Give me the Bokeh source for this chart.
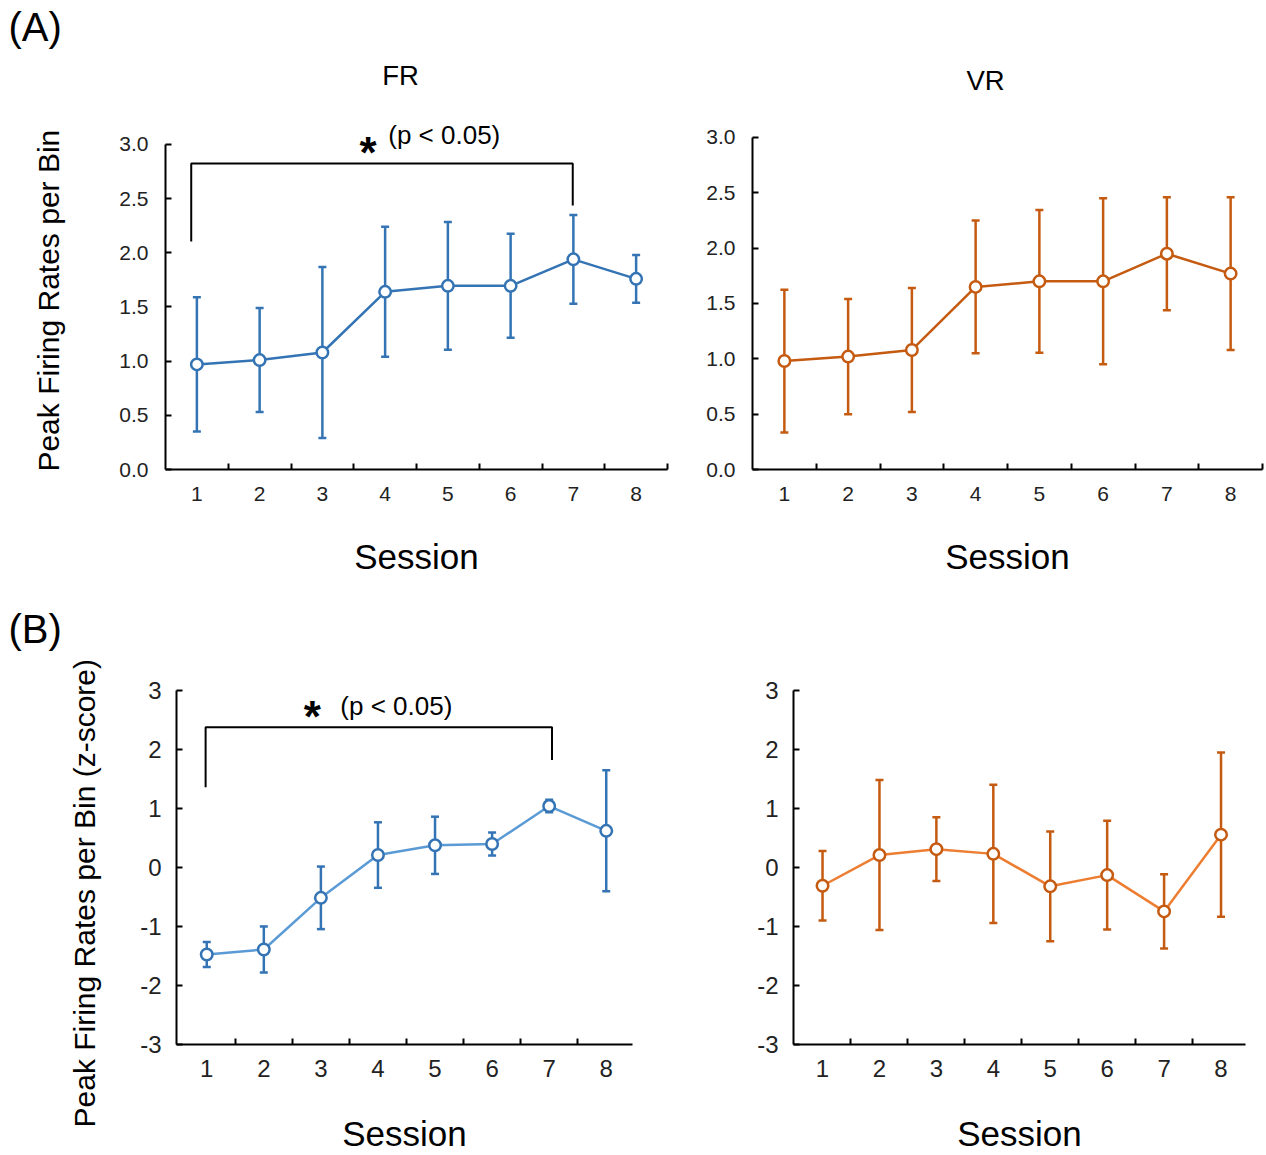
from bokeh.plotting import figure
from bokeh.models import (ColumnDataSource, Whisker, TeeHead, FixedTicker,
                          Range1d, Label, Title)
from bokeh.layouts import column, row
from bokeh.embed import file_html
from bokeh.resources import INLINE

# ---------------- data ----------------
sessions = [1, 2, 3, 4, 5, 6, 7, 8]
session_labels = ["1", "2", "3", "4", "5", "6", "7", "8"]

fr_rate_mean = [0.97, 1.01, 1.08, 1.64, 1.695, 1.695, 1.94, 1.76]
fr_rate_err = [0.62, 0.48, 0.79, 0.60, 0.59, 0.48, 0.41, 0.22]
vr_rate_mean = [0.98, 1.02, 1.08, 1.65, 1.70, 1.70, 1.95, 1.77]
vr_rate_err = [0.645, 0.52, 0.56, 0.60, 0.645, 0.75, 0.51, 0.69]

fr_z_mean = [-1.475, -1.39, -0.515, 0.21, 0.375, 0.397, 1.04, 0.62]
fr_z_err = [0.21, 0.39, 0.53, 0.555, 0.485, 0.195, 0.105, 1.025]
vr_z_mean = [-0.31, 0.21, 0.31, 0.23, -0.32, -0.13, -0.745, 0.556]
vr_z_err = [0.59, 1.27, 0.54, 1.17, 0.93, 0.92, 0.63, 1.39]

rate_ticks = [0.0, 0.5, 1.0, 1.5, 2.0, 2.5, 3.0]
rate_tick_labels = ["0.0", "0.5", "1.0", "1.5", "2.0", "2.5", "3.0"]
z_ticks = [-3, -2, -1, 0, 1, 2, 3]
z_tick_labels = ["-3", "-2", "-1", "0", "1", "2", "3"]

# significance brackets (session 1 vs session 7)
sig_a_x = [0.91, 0.91, 6.99, 6.99]
sig_a_y = [2.105, 2.825, 2.825, 2.437]
sig_b_x = [0.98, 0.98, 7.05, 7.05]
sig_b_y = [1.36, 2.375, 2.375, 1.82]
sig_text = "(p < 0.05)"

ylabel_rate = "Peak Firing Rates per Bin"
ylabel_z = "Peak Firing Rates per Bin (z-score)"

FONT = "Liberation Sans"
BLUE = "#3474b4"
BLUE_LIGHT = "#5b9bd5"
ORANGE = "#c55a11"
ORANGE_LIGHT = "#ed7d31"
NBSP = "\u00a0"


def make_panel(mean, err, yr, ybounds, ticks, tick_labels, xr, width, height,
               borders, line_color, bar_color, tick_font, label_standoff_x,
               tick_standoff_x, tick_standoff_y, ylabel=None,
               ylabel_standoff=0, ylabel_size="30px"):
    p = figure(width=width, height=height, output_backend="svg",
               toolbar_location=None, x_range=Range1d(*xr),
               y_range=Range1d(*yr), min_border_left=borders[0],
               min_border_right=borders[1], min_border_top=borders[2],
               min_border_bottom=borders[3])
    p.outline_line_color = None
    p.grid.visible = False
    p.background_fill_color = "white"
    p.border_fill_color = "white"

    lower = [m - e for m, e in zip(mean, err)]
    upper = [m + e for m, e in zip(mean, err)]
    src = ColumnDataSource(dict(x=sessions, y=mean, lower=lower, upper=upper))

    w = Whisker(base="x", lower="lower", upper="upper", source=src,
                dimension="height", line_color=bar_color, line_width=2.5,
                upper_head=TeeHead(size=8, line_color=bar_color, line_width=2.5),
                lower_head=TeeHead(size=8, line_color=bar_color, line_width=2.5))
    p.add_layout(w)
    p.line("x", "y", source=src, line_color=line_color, line_width=2.5)
    p.scatter("x", "y", source=src, marker="circle", size=11.5,
              fill_color="white", line_color=bar_color, line_width=2.5)

    # axes
    p.xaxis.ticker = FixedTicker(ticks=sessions,
                                 minor_ticks=[s + 0.5 for s in sessions])
    p.xaxis.major_label_overrides = {s: l for s, l in zip(sessions, session_labels)}
    p.xaxis.major_tick_in = 0
    p.xaxis.major_tick_out = 0
    p.xaxis.minor_tick_in = 6
    p.xaxis.minor_tick_out = 0
    p.xaxis.minor_tick_line_color = "black"
    p.xaxis.minor_tick_line_width = 2
    p.xaxis.axis_label = "Session"
    p.xaxis.axis_label_text_font = FONT
    p.xaxis.axis_label_text_font_style = "normal"
    p.xaxis.axis_label_text_font_size = "35px"
    p.xaxis.axis_label_text_color = "black"
    p.xaxis.axis_label_standoff = label_standoff_x
    p.xaxis.major_label_standoff = tick_standoff_x

    p.yaxis.ticker = FixedTicker(ticks=ticks, minor_ticks=[])
    p.yaxis.bounds = ybounds
    p.yaxis.major_label_overrides = {t: l for t, l in zip(ticks, tick_labels)}
    p.yaxis.major_tick_in = 6
    p.yaxis.major_tick_out = 0
    p.yaxis.major_tick_line_width = 2
    p.yaxis.major_label_standoff = tick_standoff_y
    if ylabel:
        p.yaxis.axis_label = ylabel
        p.yaxis.axis_label_text_font = FONT
        p.yaxis.axis_label_text_font_style = "normal"
        p.yaxis.axis_label_text_font_size = ylabel_size
        p.yaxis.axis_label_text_color = "black"
        p.yaxis.axis_label_standoff = ylabel_standoff

    for ax in (p.xaxis, p.yaxis):
        ax.axis_line_color = "black"
        ax.axis_line_width = 2
        ax.major_tick_line_color = "black"
        ax.major_label_text_font = FONT
        ax.major_label_text_font_size = tick_font
        ax.major_label_text_color = "#222222"
    return p


def add_text(p, x, y, text, size, align="center", baseline="middle",
             style="normal"):
    p.add_layout(Label(x=x, y=y, text=text, text_font=FONT,
                       text_font_size=size, text_align=align,
                       text_baseline=baseline, text_font_style=style,
                       text_color="black"))


def add_sig(p, bx, by, star_xy, text_xy):
    p.line(bx, by, line_color="black", line_width=2)
    add_text(p, star_xy[0], star_xy[1], "*", "44px", baseline="alphabetic",
             style="bold")
    add_text(p, text_xy[0], text_xy[1], sig_text, "26px", align="left")


def panel_letter(p, text, offset, standoff):
    p.add_layout(Title(text=text, align="left", offset=offset,
                       standoff=standoff, text_font=FONT,
                       text_font_size="40px", text_font_style="normal",
                       text_color="black"), "above")


# ---------------- row A ----------------
pa1 = make_panel(fr_rate_mean, fr_rate_err, (0, 3.886), (0, 3.0), rate_ticks,
                 rate_tick_labels, (0.5, 8.5), 690, 590, (165, 23, 48, 121),
                 BLUE, BLUE, "21px", 33, 17, 17,
                 ylabel=ylabel_rate + NBSP * 10, ylabel_standoff=51,
                 ylabel_size="30px")
add_sig(pa1, sig_a_x, sig_a_y, (3.73, 2.93), (4.05, 3.09))
add_text(pa1, 4.245, 3.637, "FR", "27.5px")
panel_letter(pa1, "(A)", -157, 0)

pa2 = make_panel(vr_rate_mean, vr_rate_err, (0, 3.804), (0, 3.0), rate_ticks,
                 rate_tick_labels, (0.5, 8.5), 576, 590, (62, 4, 48, 121),
                 ORANGE, ORANGE, "21px", 33, 17, 17)
add_text(pa2, 4.155, 3.515, "VR", "27.5px")

# ---------------- row B ----------------
pb1 = make_panel(fr_z_mean, fr_z_err, (-3, 3.676), (-3, 3), z_ticks,
                 z_tick_labels, (0.47, 8.46), 690, 565, (176, 58, 60, 110),
                 BLUE_LIGHT, BLUE, "24px", 34, 15, 15)
pb1.add_layout(Title(text=ylabel_z, align="left", offset=-83, standoff=73,
                     text_font=FONT, text_font_size="30px",
                     text_font_style="normal", text_color="black"), "left")
add_sig(pb1, sig_b_x, sig_b_y, (2.85, 2.56), (3.34, 2.73))
panel_letter(pb1, "(B)", -168, 0)

pb2 = make_panel(vr_z_mean, vr_z_err, (-3, 3.676), (-3, 3), z_ticks,
                 z_tick_labels, (0.49, 8.43), 576, 565, (103, 21, 60, 110),
                 ORANGE_LIGHT, ORANGE, "24px", 34, 15, 15)

layout = column(row(pa1, pa2), row(pb1, pb2))
open("out.html", "w").write(file_html(layout, INLINE))
